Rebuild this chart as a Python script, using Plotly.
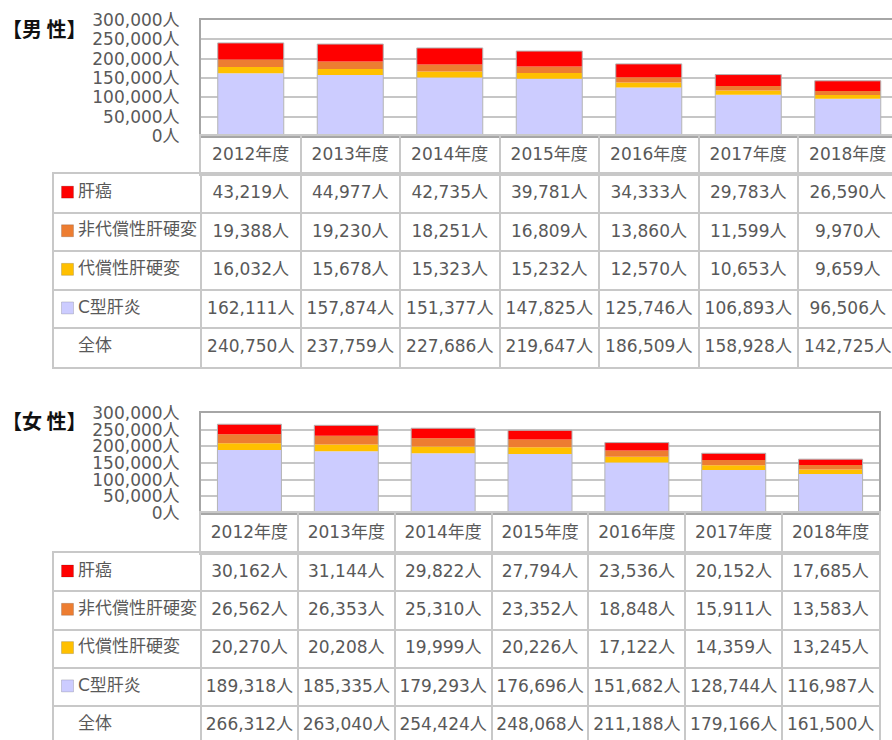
import plotly.graph_objects as go
import numpy as np

# ---------------- data ----------------
years = ["2012年度", "2013年度", "2014年度", "2015年度", "2016年度", "2017年度", "2018年度"]
series_names = ["肝癌", "非代償性肝硬変", "代償性肝硬変", "C型肝炎"]
total_label = "全体"
series_colors = ["#FF0000", "#ED7D31", "#FFC000", "#CCCCFF"]

male_cancer = [43219, 44977, 42735, 39781, 34333, 29783, 26590]
male_decomp = [19388, 19230, 18251, 16809, 13860, 11599, 9970]
male_comp = [16032, 15678, 15323, 15232, 12570, 10653, 9659]
male_hepc = [162111, 157874, 151377, 147825, 125746, 106893, 96506]
male_total = [240750, 237759, 227686, 219647, 186509, 158928, 142725]

female_cancer = [30162, 31144, 29822, 27794, 23536, 20152, 17685]
female_decomp = [26562, 26353, 25310, 23352, 18848, 15911, 13583]
female_comp = [20270, 20208, 19999, 20226, 17122, 14359, 13245]
female_hepc = [189318, 185335, 179293, 176696, 151682, 128744, 116987]
female_total = [266312, 263040, 254424, 248068, 211188, 179166, 161500]

y_ticks = [0, 50000, 100000, 150000, 200000, 250000, 300000]
y_tick_labels = [f"{v:,}人" for v in y_ticks]

# ---------------- layout constants ----------------
W, H = 892, 740
TXT = "#595959"
FONT = "DejaVu Sans, Noto Sans CJK JP, sans-serif"
FS = 17
GRID = "#c6c6c6"
BORDER = "#a6a6a6"
TBL = "#c8c8c8"


def xdom(a, b):
    return [max(0, a / W), min(1, b / W)]


def ydom(top, bottom):
    return [max(0, 1 - bottom / H), min(1, 1 - top / H)]


fig = go.Figure()
layout = dict(
    width=W, height=H, margin=dict(l=0, r=0, t=0, b=0, autoexpand=False),
    paper_bgcolor="white", plot_bgcolor="white", showlegend=False,
    barmode="overlay", font=dict(family=FONT, size=FS, color=TXT),
    annotations=[],
)

panels = [
    dict(title="【男 性】", title_y=28, plot_top=20, plot_bot=136, head_bot=174,
         row_h=38.6, left=201, label_left=54, right=892, colw=99.5, bar_px=66,
         right_border=False,
         series=[male_cancer, male_decomp, male_comp, male_hepc], total=male_total),
    dict(title="【女 性】", title_y=420, plot_top=413, plot_bot=513, head_bot=553,
         row_h=38.3, left=201, label_left=54, right=879, colw=96.86, bar_px=64,
         right_border=True,
         series=[female_cancer, female_decomp, female_comp, female_hepc], total=female_total),
]

for p, g in enumerate(panels):
    k = [3 * p + 1, 3 * p + 2, 3 * p + 3]
    names = [("xaxis" if i == 1 else f"xaxis{i}", "yaxis" if i == 1 else f"yaxis{i}") for i in k]
    refs = [("x" if i == 1 else f"x{i}", "y" if i == 1 else f"y{i}") for i in k]

    colw = g["colw"]
    x_end = -0.5 + (g["right"] - g["left"]) / colw
    x_start_body = -0.5 - (g["left"] - g["label_left"]) / colw
    xs = list(range(len(years)))
    bw = g["bar_px"] / colw

    # ---------- bar chart ----------
    stack_order = [3, 2, 1, 0]  # C型肝炎 at the bottom, 肝癌 on top
    base = np.zeros(len(years))
    for si in stack_order:
        vals = np.array(g["series"][si], dtype=float)
        fig.add_trace(go.Bar(
            x=xs, y=vals, base=base.copy(), width=bw,
            marker=dict(color=series_colors[si], line=dict(width=0)),
            xaxis=refs[0][0], yaxis=refs[0][1], hoverinfo="skip", name=series_names[si]))
        base = base + vals
    fig.add_trace(go.Bar(
        x=xs, y=g["total"], base=[0] * len(years), width=bw,
        marker=dict(color="rgba(0,0,0,0)", line=dict(width=1, color="#b4b4b4")),
        xaxis=refs[0][0], yaxis=refs[0][1], hoverinfo="skip"))

    layout[names[0][0]] = dict(
        domain=xdom(g["left"], g["right"]), range=[-0.5, x_end], showticklabels=False,
        ticks="", showgrid=False, zeroline=False, showline=True, mirror=True,
        linecolor=BORDER, linewidth=2, anchor=refs[0][1], fixedrange=True, automargin=False)
    layout[names[0][1]] = dict(
        domain=ydom(g["plot_top"], g["plot_bot"]), range=[0, 300000],
        tickvals=y_ticks, ticktext=y_tick_labels, ticks="outside", ticklen=16,
        tickcolor="rgba(0,0,0,0)", tickfont=dict(size=FS, color=TXT, family=FONT),
        showgrid=True, gridcolor=GRID, gridwidth=2, zeroline=False,
        showline=True, mirror=g["right_border"], linecolor=BORDER, linewidth=2,
        anchor=refs[0][0], fixedrange=True, automargin=False)

    # ---------- header row (years) ----------
    fig.add_trace(go.Scatter(
        x=xs, y=[0.48] * len(years), mode="text", text=years,
        textfont=dict(size=FS, color=TXT, family=FONT), textposition="middle center",
        xaxis=refs[1][0], yaxis=refs[1][1], hoverinfo="skip"))
    layout[names[1][0]] = dict(
        domain=xdom(g["left"], g["right"]), range=[-0.5, x_end],
        tickvals=[i + 0.5 for i in range(-1, len(years))], showticklabels=False, ticks="",
        showgrid=True, gridcolor=TBL, gridwidth=2, zeroline=False,
        showline=True, mirror=True, linecolor=TBL, linewidth=2,
        anchor=refs[1][1], fixedrange=True, automargin=False)
    layout[names[1][1]] = dict(
        domain=ydom(g["plot_bot"], g["head_bot"]), range=[0, 1],
        showticklabels=False, ticks="", showgrid=False, zeroline=False,
        showline=True, mirror=g["right_border"], linecolor=TBL, linewidth=2,
        anchor=refs[1][0], fixedrange=True, automargin=False)

    # ---------- table body ----------
    rows = g["series"] + [g["total"]]
    labels = series_names + [total_label]
    body_bottom = min(H, g["head_bot"] + len(rows) * g["row_h"])
    visible = (body_bottom - g["head_bot"]) / g["row_h"]
    for r, vals in enumerate(rows):
        fig.add_trace(go.Scatter(
            x=xs, y=[r + 0.01] * len(years), mode="text",
            text=[f"{v:,}人" for v in vals],
            textfont=dict(size=FS, color=TXT, family=FONT), textposition="middle center",
            xaxis=refs[2][0], yaxis=refs[2][1], hoverinfo="skip"))
    sq_x = x_start_body + (67.5 - g["label_left"]) / colw
    lab_x = x_start_body + (78 - g["label_left"]) / colw
    fig.add_trace(go.Scatter(
        x=[sq_x] * len(series_names), y=[i - 0.03 for i in range(len(series_names))],
        mode="markers",
        marker=dict(symbol="square", size=12, color=series_colors,
                    line=dict(width=0.6, color="rgba(0,0,0,0.25)")),
        xaxis=refs[2][0], yaxis=refs[2][1], hoverinfo="skip"))
    fig.add_trace(go.Scatter(
        x=[lab_x] * len(labels), y=[i - 0.02 for i in range(len(labels))], mode="text",
        text=labels, textposition="middle right",
        textfont=dict(size=FS, color=TXT, family=FONT),
        xaxis=refs[2][0], yaxis=refs[2][1], hoverinfo="skip"))
    layout[names[2][0]] = dict(
        domain=xdom(g["label_left"], g["right"]), range=[x_start_body, x_end],
        tickvals=[i + 0.5 for i in range(-1, len(years))], showticklabels=False, ticks="",
        showgrid=True, gridcolor=TBL, gridwidth=2, zeroline=False, side="top",
        showline=True, mirror=(body_bottom < H), linecolor=TBL, linewidth=2,
        anchor=refs[2][1], fixedrange=True, automargin=False)
    layout[names[2][1]] = dict(
        domain=ydom(g["head_bot"], body_bottom), range=[-0.5 + visible, -0.5],
        tickvals=[i + 0.5 for i in range(len(rows) - 1)], showticklabels=False, ticks="",
        showgrid=True, gridcolor=TBL, gridwidth=2, zeroline=False,
        showline=True, mirror=g["right_border"], linecolor=TBL, linewidth=2,
        anchor=refs[2][0], fixedrange=True, automargin=False)

    # ---------- title ----------
    layout["annotations"].append(dict(
        text=f"<b>{g['title']}</b>", xref="paper", yref="paper", x=0, xanchor="left",
        y=1 - g["title_y"] / H, yanchor="middle", showarrow=False,
        font=dict(size=20, color="#111111", family="Noto Sans CJK JP, sans-serif")))

fig.update_layout(**layout)
fig.write_html("out.html", config={"displayModeBar": False},
               post_script="document.body.style.margin='0';")
